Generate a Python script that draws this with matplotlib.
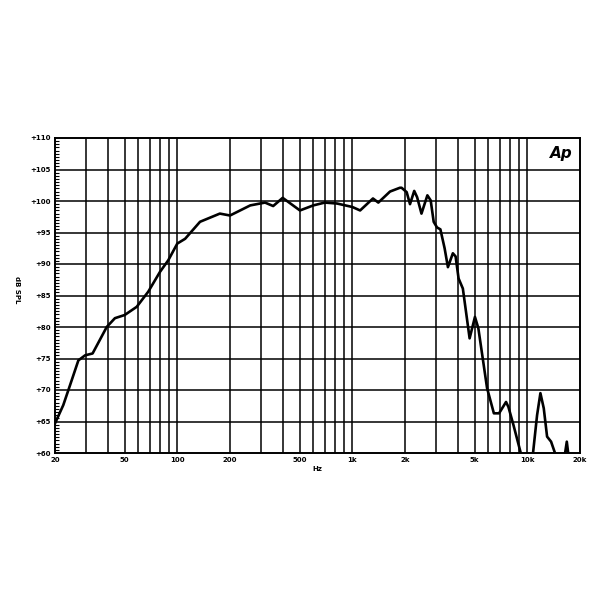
import matplotlib
matplotlib.use('Agg')
import matplotlib.pyplot as plt
from matplotlib.ticker import FixedLocator, MultipleLocator, NullFormatter

# response curve (Hz, dB SPL)
freqs = [20, 22.3, 24.4, 27.2, 29.7, 32.8, 39.5, 44, 50, 58.6, 68.2, 79.6, 88.8,
         100, 110.8, 134.8, 175, 200, 261, 317, 353, 400, 502, 598, 696, 818,
         1000, 1108, 1312, 1408, 1642, 1870, 1912, 2045, 2136, 2258, 2346, 2484,
         2685, 2804, 2917, 3048, 3186, 3368, 3518, 3754, 3892, 4048, 4282, 4680,
         5020, 5250, 5888, 6440, 6894, 7558, 7800, 8340, 9132, 9800, 10300,
         10780, 11370, 11880, 12414, 12970, 13670, 14390, 15400, 16440, 16810,
         17200, 18000, 20000]
levels = [64.7, 67.6, 70.8, 74.7, 75.5, 75.8, 80.0, 81.4, 81.9, 83.2, 85.6, 88.75, 90.6,
          93.25, 94.0, 96.7, 98.0, 97.7, 99.3, 99.75, 99.2, 100.5, 98.5, 99.3, 99.75, 99.6,
          99.05, 98.5, 100.4, 99.75, 101.5, 102.1, 102.1, 101.4, 99.5, 101.6, 100.6, 98.0,
          100.9, 100.1, 96.7, 95.8, 95.5, 92.5, 89.5, 91.7, 91.2, 87.7, 86.1, 78.2,
          81.6, 79.8, 70.3, 66.3, 66.3, 68.1, 67.3, 64.4, 60.2, 57.0, 57.0,
          60.0, 66.0, 69.5, 67.1, 62.6, 61.8, 60.0, 58.5, 60.0, 61.8,
          59.5, 57.0, 57.0]

grid_freqs = [20, 30, 40, 50, 60, 70, 80, 90, 100, 200, 300, 400, 500, 600, 700, 800, 900,
              1000, 2000, 3000, 4000, 5000, 6000, 7000, 8000, 9000, 10000, 20000]
label_freqs = [20, 50, 100, 200, 500, 1000, 2000, 5000, 10000, 20000]
label_texts = ['20', '50', '100', '200', '500', '1k', '2k', '5k', '10k', '20k']
db_ticks = [60, 65, 70, 75, 80, 85, 90, 95, 100, 105, 110]

fig = plt.figure(figsize=(6, 6), dpi=100)
ax = fig.add_axes([55 / 600, 1 - 453 / 600, 525 / 600, 315 / 600])

ax.plot(freqs, levels, color='black', linewidth=1.9, solid_joinstyle='round', zorder=3)

ax.set_xscale('log')
ax.set_xlim(20, 20000)
ax.set_ylim(60, 110)

# grid lines at every decade step
for f in grid_freqs[1:-1]:
    ax.axvline(f, color='black', linewidth=1.1, zorder=1)
for d in db_ticks[1:-1]:
    ax.axhline(d, color='black', linewidth=1.1, zorder=1)

ax.xaxis.set_major_locator(FixedLocator(label_freqs))
ax.set_xticklabels(label_texts)
ax.xaxis.set_minor_locator(FixedLocator([]))
ax.xaxis.set_minor_formatter(NullFormatter())
ax.tick_params(axis='x', which='both', length=0, pad=3, labelsize=5)

ax.set_yticks(db_ticks)
ax.set_yticklabels(['+%d' % d for d in db_ticks])
ax.yaxis.set_minor_locator(MultipleLocator(0.5))
ax.tick_params(axis='y', which='major', length=0, pad=3, labelsize=5)
ax.tick_params(axis='y', which='minor', direction='in', length=3, width=0.8)

for lab in ax.get_xticklabels() + ax.get_yticklabels():
    lab.set_fontweight('bold')

for s in ax.spines.values():
    s.set_linewidth(1.4)
    s.set_color('black')

ax.set_xlabel('Hz', fontsize=5, fontweight='bold', labelpad=2)
fig.text(17 / 600, 1 - 290 / 600, 'dB SPL', rotation=-90, fontsize=5,
         fontweight='bold', ha='center', va='center')

ax.text(0.985, 0.975, 'Ap', transform=ax.transAxes, ha='right', va='top',
        fontsize=11, fontweight='bold', fontstyle='italic', zorder=4)

plt.savefig('out.png', dpi=100)
